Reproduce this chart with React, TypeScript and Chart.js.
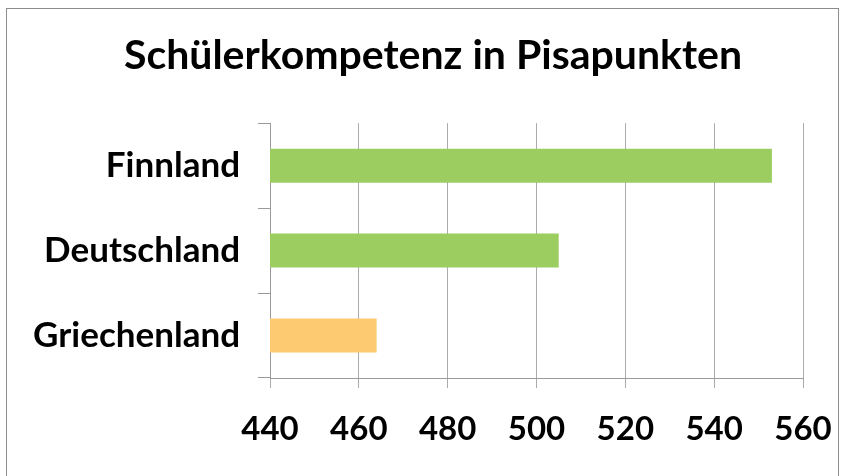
import React, { useEffect, useRef } from "react";
import { Chart, registerables } from "chart.js";

Chart.register(...registerables);

const titleText = "Schülerkompetenz in Pisapunkten";
const categories = ["Finnland", "Deutschland", "Griechenland"];
const scores = [553, 505, 464];
const barColors = ["#9BCD61", "#9BCD61", "#FDCA71"];
const xMin = 440;
const xMax = 560;
const xStep = 20;

const FONT = "Lato, 'Open Sans', sans-serif";

const borderPlugin = {
  id: "outerBorder",
  beforeDraw(chart: any) {
    const ctx = chart.ctx;
    ctx.save();
    ctx.strokeStyle = "#8c8c8c";
    ctx.lineWidth = 1;
    ctx.strokeRect(6.5, 8.5, 832, 600);
    ctx.restore();
  },
};

export default function App() {
  const ref = useRef<HTMLCanvasElement | null>(null);
  useEffect(() => {
    if (!ref.current) return;
    const chart = new Chart(ref.current, {
      type: "bar",
      data: {
        labels: categories,
        datasets: [
          {
            data: scores,
            backgroundColor: barColors,
            borderWidth: 0,
            barPercentage: 0.4,
            categoryPercentage: 1,
          },
        ],
      },
      options: {
        indexAxis: "y",
        animation: false,
        responsive: false,
        layout: { padding: { left: 30, right: 5, top: 0, bottom: 0 } },
        plugins: {
          legend: { display: false },
          tooltip: { enabled: false },
          title: {
            display: true,
            text: titleText,
            color: "#000",
            font: { family: FONT, size: 41, weight: "bold" },
            padding: { top: 31, bottom: 43 },
          },
        },
        scales: {
          x: {
            min: xMin,
            max: xMax,
            ticks: {
              stepSize: xStep,
              color: "#000",
              font: { family: FONT, size: 33, weight: "bold" },
              padding: 22,
            },
            grid: {
              color: "#ababab",
              lineWidth: 1,
              tickLength: 10,
              drawTicks: true,
            },
            border: { color: "#9a9a9a" },
            afterFit(scale: any) {
              scale.height = 98;
              scale.paddingRight = 38;
              scale.paddingLeft = 0;
            },
          },
          y: {
            ticks: {
              color: "#000",
              font: { family: FONT, size: 35, weight: "bold" },
              padding: 18,
            },
            grid: {
              drawOnChartArea: false,
              color: "#9a9a9a",
              tickLength: 12,
              offset: true,
            },
            border: { color: "#9a9a9a" },
            afterFit(scale: any) {
              scale.width = 240;
            },
          },
        },
      },
      plugins: [borderPlugin],
    } as any);
    return () => chart.destroy();
  }, []);
  return (
    <div style={{ position: "absolute", left: 0, top: 0, width: 841, height: 476, background: "#fff" }}>
      <canvas ref={ref} width={841} height={476} style={{ display: "block" }} />
    </div>
  );
}
